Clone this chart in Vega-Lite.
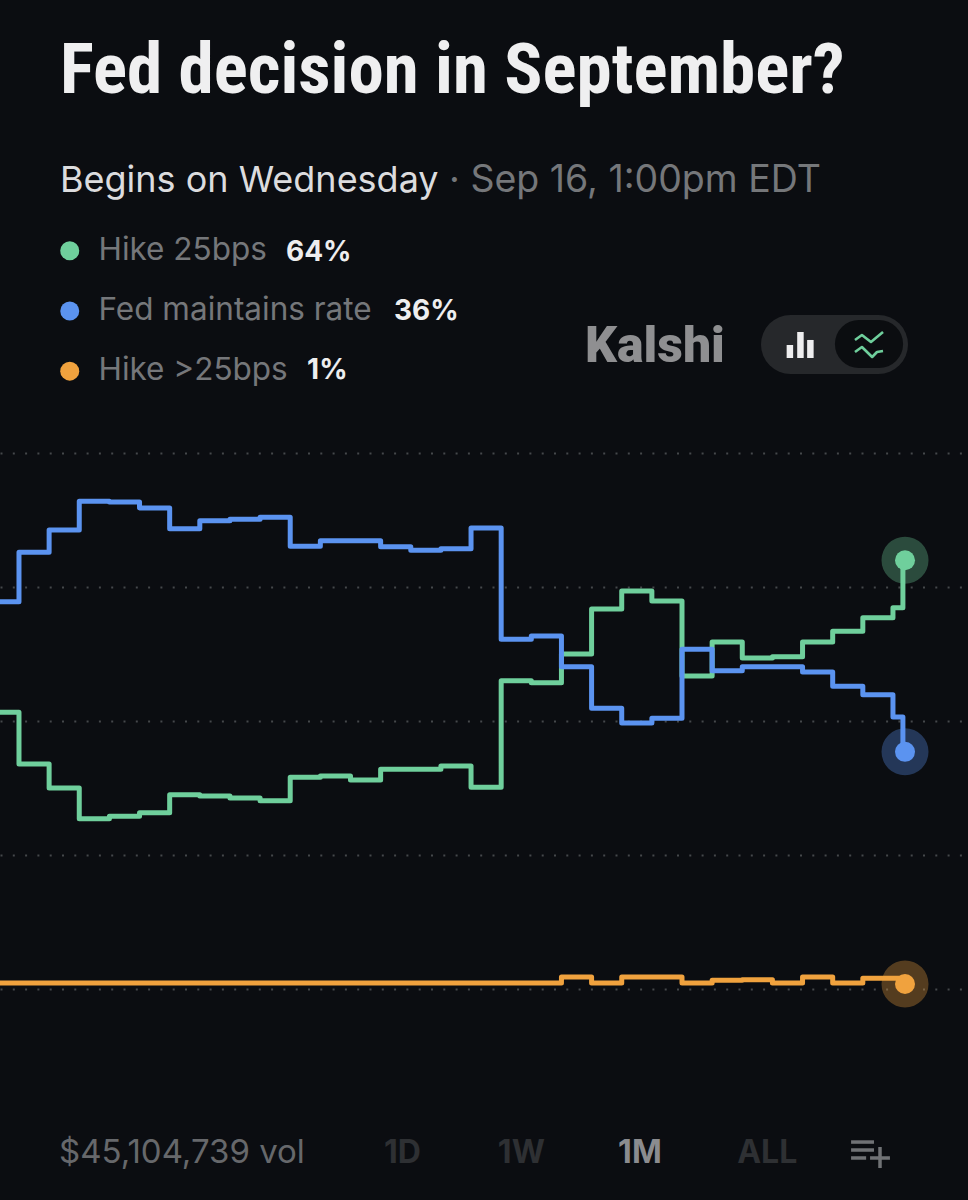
{
"$schema":"https://vega.github.io/schema/vega-lite/v6.json",
"width":968,"height":1200,"padding":0,"autosize":{"type":"none"},
"background":"#0b0d11",
"title":{"text":"Fed decision in September?","anchor":"start","frame":"group","orient":"top","offset":0,"dx":60,"dy":164,"baseline":"alphabetic","font":"Roboto Condensed, Arial Narrow, DejaVu Sans Condensed, sans-serif","fontSize":71,"fontWeight":"bold","color":"#efeff0"},
"config":{"view":{"stroke":null}},
"datasets":{
"prices":[
{"day":-1,"series":"Hike 25bps","pct":41.3},{"day":0,"series":"Hike 25bps","pct":33.6},{"day":1,"series":"Hike 25bps","pct":30.0},{"day":2,"series":"Hike 25bps","pct":25.4},{"day":3,"series":"Hike 25bps","pct":25.8},{"day":4,"series":"Hike 25bps","pct":26.3},{"day":5,"series":"Hike 25bps","pct":29.0},{"day":6,"series":"Hike 25bps","pct":28.8},{"day":7,"series":"Hike 25bps","pct":28.5},{"day":8,"series":"Hike 25bps","pct":28.1},{"day":9,"series":"Hike 25bps","pct":31.6},{"day":10,"series":"Hike 25bps","pct":31.8},{"day":11,"series":"Hike 25bps","pct":31.2},{"day":12,"series":"Hike 25bps","pct":32.8},{"day":13,"series":"Hike 25bps","pct":32.8},{"day":14,"series":"Hike 25bps","pct":33.3},{"day":15,"series":"Hike 25bps","pct":30.1},{"day":16,"series":"Hike 25bps","pct":46.0},{"day":17,"series":"Hike 25bps","pct":45.7},{"day":18,"series":"Hike 25bps","pct":50.0},{"day":19,"series":"Hike 25bps","pct":56.7},{"day":20,"series":"Hike 25bps","pct":59.4},{"day":21,"series":"Hike 25bps","pct":57.9},{"day":22,"series":"Hike 25bps","pct":46.7},{"day":23,"series":"Hike 25bps","pct":51.8},{"day":24,"series":"Hike 25bps","pct":49.4},{"day":25,"series":"Hike 25bps","pct":49.6},{"day":26,"series":"Hike 25bps","pct":51.8},{"day":27,"series":"Hike 25bps","pct":53.4},{"day":28,"series":"Hike 25bps","pct":55.4},{"day":29,"series":"Hike 25bps","pct":56.9},{"day":29.33,"series":"Hike 25bps","pct":64.0},{"day":29.4,"series":"Hike 25bps","pct":64.0},
{"day":-1,"series":"Fed maintains rate","pct":57.8},{"day":0,"series":"Fed maintains rate","pct":65.2},{"day":1,"series":"Fed maintains rate","pct":68.5},{"day":2,"series":"Fed maintains rate","pct":72.8},{"day":3,"series":"Fed maintains rate","pct":72.7},{"day":4,"series":"Fed maintains rate","pct":71.8},{"day":5,"series":"Fed maintains rate","pct":68.7},{"day":6,"series":"Fed maintains rate","pct":69.9},{"day":7,"series":"Fed maintains rate","pct":70.1},{"day":8,"series":"Fed maintains rate","pct":70.4},{"day":9,"series":"Fed maintains rate","pct":66.1},{"day":10,"series":"Fed maintains rate","pct":66.9},{"day":11,"series":"Fed maintains rate","pct":66.9},{"day":12,"series":"Fed maintains rate","pct":66.0},{"day":13,"series":"Fed maintains rate","pct":65.5},{"day":14,"series":"Fed maintains rate","pct":65.7},{"day":15,"series":"Fed maintains rate","pct":68.8},{"day":16,"series":"Fed maintains rate","pct":52.2},{"day":17,"series":"Fed maintains rate","pct":52.7},{"day":18,"series":"Fed maintains rate","pct":48.1},{"day":19,"series":"Fed maintains rate","pct":41.9},{"day":20,"series":"Fed maintains rate","pct":39.7},{"day":21,"series":"Fed maintains rate","pct":40.4},{"day":22,"series":"Fed maintains rate","pct":50.7},{"day":23,"series":"Fed maintains rate","pct":47.5},{"day":24,"series":"Fed maintains rate","pct":48.1},{"day":25,"series":"Fed maintains rate","pct":48.1},{"day":26,"series":"Fed maintains rate","pct":47.3},{"day":27,"series":"Fed maintains rate","pct":45.2},{"day":28,"series":"Fed maintains rate","pct":43.9},{"day":29,"series":"Fed maintains rate","pct":40.6},{"day":29.33,"series":"Fed maintains rate","pct":35.4},{"day":29.4,"series":"Fed maintains rate","pct":35.4},
{"day":-1,"series":"Hike >25bps","pct":0.9},{"day":17,"series":"Hike >25bps","pct":0.9},{"day":18,"series":"Hike >25bps","pct":1.8},{"day":19,"series":"Hike >25bps","pct":0.9},{"day":20,"series":"Hike >25bps","pct":1.8},{"day":21,"series":"Hike >25bps","pct":1.8},{"day":22,"series":"Hike >25bps","pct":0.9},{"day":23,"series":"Hike >25bps","pct":1.3},{"day":24,"series":"Hike >25bps","pct":1.4},{"day":25,"series":"Hike >25bps","pct":0.9},{"day":26,"series":"Hike >25bps","pct":1.8},{"day":27,"series":"Hike >25bps","pct":0.9},{"day":28,"series":"Hike >25bps","pct":1.6},{"day":29,"series":"Hike >25bps","pct":1.6},{"day":29.33,"series":"Hike >25bps","pct":0.75},{"day":29.4,"series":"Hike >25bps","pct":0.75}
],
"labels":[
{"text":"Begins on Wednesday","kind":"sub1","day":1.36,"pct":118.96},
{"text":"· Sep 16, 1:00pm EDT","kind":"sub2","day":14.27,"pct":118.96},
{"text":"64%","kind":"share","day":8.86,"pct":108.66},
{"text":"36%","kind":"share","day":12.44,"pct":99.85},
{"text":"1%","kind":"share","day":9.56,"pct":91.04},
{"text":"$45,104,739 vol","kind":"vol","day":1.33,"pct":-25.97},
{"text":"1D","kind":"off","day":12.11,"pct":-25.97},
{"text":"1W","kind":"off","day":15.89,"pct":-25.97},
{"text":"1M","kind":"on","day":19.88,"pct":-25.97},
{"text":"ALL","kind":"off","day":23.83,"pct":-25.97},
{"text":"Kalshi","kind":"brand","day":18.78,"pct":93.58}
],
"pills":[
{"part":"outer","a":25.6,"b":28.52,"pct":96.2},
{"part":"inner","a":27.87,"b":28.54,"pct":96.27}
],
"bars":[
{"day":25.58,"top":96.12,"bottom":94.18},{"day":25.93,"top":98.06,"bottom":94.18},{"day":26.26,"top":96.87,"bottom":94.18}
],
"squiggles":[
{"id":"a","ord":1,"day":27.74,"pct":96.87},{"id":"a","ord":2,"day":27.97,"pct":97.61},{"id":"a","ord":3,"day":28.27,"pct":96.57},{"id":"a","ord":4,"day":28.67,"pct":98.06},
{"id":"b","ord":1,"day":27.74,"pct":95.07},{"id":"b","ord":2,"day":27.97,"pct":95.82},{"id":"b","ord":3,"day":28.31,"pct":94.33},{"id":"b","ord":4,"day":28.47,"pct":95.07},{"id":"b","ord":5,"day":28.67,"pct":95.22}
],
"menu":[
{"a":27.61,"b":28.37,"pct":-22.84},{"a":27.61,"b":28.37,"pct":-24.03},{"a":27.61,"b":28.11,"pct":-25.22},{"a":28.24,"b":28.9,"pct":-25.22}
],
"menuV":[{"day":28.57,"top":-23.58,"bottom":-26.72}]
},
"layer":[
{"data":{"name":"prices"},
 "mark":{"type":"line","interpolate":"step-after","strokeWidth":5,"strokeJoin":"round","strokeCap":"round","clip":true},
 "encoding":{
  "x":{"field":"day","type":"quantitative","scale":{"domain":[-0.63,31.49],"nice":false,"zero":false},"axis":null},
  "y":{"field":"pct","type":"quantitative","scale":{"domain":[-31.49,147.61],"nice":false,"zero":false},
   "axis":{"values":[0,20,40,60,80],"grid":true,"gridColor":"#45484b","gridDash":[2,10.3],"gridWidth":2,"domain":false,"ticks":false,"labels":false,"title":null,"zindex":0}},
  "color":{"field":"series","type":"nominal","sort":null,
   "scale":{"domain":["Hike 25bps","Fed maintains rate","Hike >25bps"],"range":["#6fcf9c","#5b93f0","#f0a23e"]},
   "legend":{"orient":"none","legendX":54,"legendY":235,"title":null,"symbolType":"circle","symbolSize":361,"symbolStrokeWidth":0,"labelFont":"Inter","labelFontSize":31.5,"labelColor":"#75777a","labelOffset":13,"rowPadding":27.2,"labelLimit":400,"encode":{"symbols":{"update":{"fill":{"scale":"color","field":"value"},"opacity":{"value":1}}}}}
  }
 }},
{"data":{"name":"prices"},"transform":[{"filter":"datum.day == 29.4"}],
 "mark":{"type":"point","filled":true,"size":2209,"opacity":0.32},
 "encoding":{"x":{"field":"day","type":"quantitative"},"y":{"field":"pct","type":"quantitative"},"color":{"field":"series","type":"nominal","legend":null}}},
{"data":{"name":"prices"},"transform":[{"filter":"datum.day == 29.4"}],
 "mark":{"type":"point","filled":true,"size":400,"opacity":1},
 "encoding":{"x":{"field":"day","type":"quantitative"},"y":{"field":"pct","type":"quantitative"},"color":{"field":"series","type":"nominal","legend":null}}},
{"data":{"name":"labels"},"transform":[{"filter":"datum.kind == 'sub1'"}],
 "mark":{"type":"text","align":"left","baseline":"alphabetic","font":"Inter","fontSize":36,"color":"#dcdcde"},
 "encoding":{"x":{"field":"day","type":"quantitative"},"y":{"field":"pct","type":"quantitative"},"text":{"field":"text"}}},
{"data":{"name":"labels"},"transform":[{"filter":"datum.kind == 'sub2'"}],
 "mark":{"type":"text","align":"left","baseline":"alphabetic","font":"Inter","fontSize":37.5,"color":"#75777a"},
 "encoding":{"x":{"field":"day","type":"quantitative"},"y":{"field":"pct","type":"quantitative"},"text":{"field":"text"}}},
{"data":{"name":"labels"},"transform":[{"filter":"datum.kind == 'share'"}],
 "mark":{"type":"text","align":"left","baseline":"alphabetic","font":"Inter","fontSize":28,"fontWeight":"bold","color":"#eeeeef"},
 "encoding":{"x":{"field":"day","type":"quantitative"},"y":{"field":"pct","type":"quantitative"},"text":{"field":"text"}}},
{"data":{"name":"labels"},"transform":[{"filter":"datum.kind == 'vol'"}],
 "mark":{"type":"text","align":"left","baseline":"alphabetic","font":"Inter","fontSize":33,"color":"#66686b"},
 "encoding":{"x":{"field":"day","type":"quantitative"},"y":{"field":"pct","type":"quantitative"},"text":{"field":"text"}}},
{"data":{"name":"labels"},"transform":[{"filter":"datum.kind == 'off'"}],
 "mark":{"type":"text","align":"left","baseline":"alphabetic","font":"Inter","fontSize":32,"fontWeight":"bold","color":"#2e3033"},
 "encoding":{"x":{"field":"day","type":"quantitative"},"y":{"field":"pct","type":"quantitative"},"text":{"field":"text"}}},
{"data":{"name":"labels"},"transform":[{"filter":"datum.kind == 'on'"}],
 "mark":{"type":"text","align":"left","baseline":"alphabetic","font":"Inter","fontSize":32,"fontWeight":"bold","color":"#8b8c8f"},
 "encoding":{"x":{"field":"day","type":"quantitative"},"y":{"field":"pct","type":"quantitative"},"text":{"field":"text"}}},
{"data":{"name":"labels"},"transform":[{"filter":"datum.kind == 'brand'"}],
 "mark":{"type":"text","align":"left","baseline":"alphabetic","font":"Roboto","fontSize":50,"fontWeight":900,"color":"#8f8f91"},
 "encoding":{"x":{"field":"day","type":"quantitative"},"y":{"field":"pct","type":"quantitative"},"text":{"field":"text"}}},
{"data":{"name":"pills"},"transform":[{"filter":"datum.part == 'outer'"}],
 "mark":{"type":"rule","strokeWidth":59,"strokeCap":"round","color":"#26282b"},
 "encoding":{"x":{"field":"a","type":"quantitative"},"x2":{"field":"b"},"y":{"field":"pct","type":"quantitative"}}},
{"data":{"name":"pills"},"transform":[{"filter":"datum.part == 'inner'"}],
 "mark":{"type":"rule","strokeWidth":48,"strokeCap":"round","color":"#0b0d10"},
 "encoding":{"x":{"field":"a","type":"quantitative"},"x2":{"field":"b"},"y":{"field":"pct","type":"quantitative"}}},
{"data":{"name":"bars"},
 "mark":{"type":"rule","strokeWidth":6.5,"color":"#eeeeef"},
 "encoding":{"x":{"field":"day","type":"quantitative"},"y":{"field":"top","type":"quantitative"},"y2":{"field":"bottom"}}},
{"data":{"name":"squiggles"},
 "mark":{"type":"line","strokeWidth":2.6,"color":"#6fcf9c","strokeJoin":"round"},
 "encoding":{"x":{"field":"day","type":"quantitative"},"y":{"field":"pct","type":"quantitative"},"detail":{"field":"id"},"order":{"field":"ord"}}},
{"data":{"name":"menu"},
 "mark":{"type":"rule","strokeWidth":3.5,"color":"#707275"},
 "encoding":{"x":{"field":"a","type":"quantitative"},"x2":{"field":"b"},"y":{"field":"pct","type":"quantitative"}}},
{"data":{"name":"menuV"},
 "mark":{"type":"rule","strokeWidth":3.5,"color":"#707275"},
 "encoding":{"x":{"field":"day","type":"quantitative"},"y":{"field":"top","type":"quantitative"},"y2":{"field":"bottom"}}}
]
}
